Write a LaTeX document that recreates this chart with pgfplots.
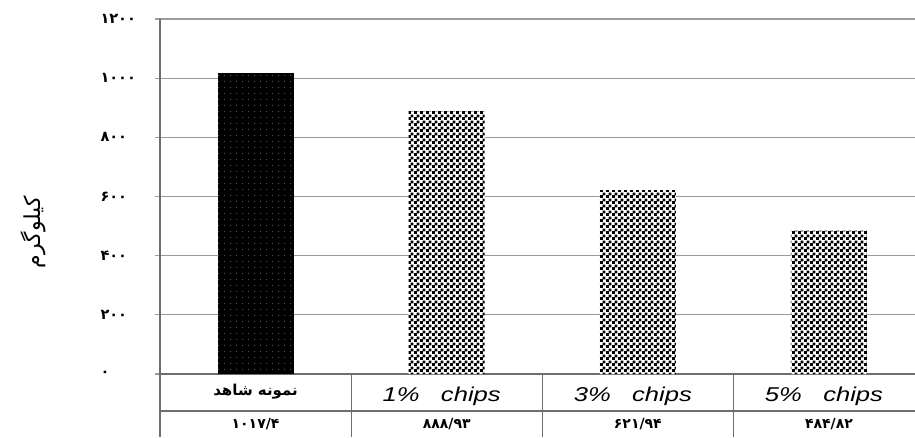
\documentclass[border=0pt]{standalone}
\usepackage{fontspec}
\setmainfont{Liberation Sans}
\newfontfamily\widesans[FakeStretch=1.28]{Liberation Sans}
\newfontfamily\arabicfont[Script=Arabic]{DejaVu Sans}
\TeXXeTstate=1
\usepackage{pgfplots}
\usepackage{pgfplotstable}
\pgfplotsset{compat=1.18}
\usetikzlibrary{patterns}

% checkerboard with 3pt squares
\pgfdeclarepatternformonly{checker}{\pgfpointorigin}{\pgfqpoint{6pt}{6pt}}{\pgfqpoint{6pt}{6pt}}{%
  \pgfpathrectangle{\pgfpointorigin}{\pgfqpoint{3.3pt}{3.3pt}}%
  \pgfpathrectangle{\pgfqpoint{3pt}{3pt}}{\pgfqpoint{3.3pt}{3.3pt}}%
  \pgfusepath{fill}}
% sparse dot screen for the dark bar
\pgfdeclarepatternformonly{finedots}{\pgfpointorigin}{\pgfqpoint{6pt}{6pt}}{\pgfqpoint{6pt}{6pt}}{%
  \pgfpathrectangle{\pgfqpoint{2.4pt}{2.4pt}}{\pgfqpoint{1.2pt}{1.2pt}}%
  \pgfusepath{fill}}

\pgfplotstableread{
x y
0 1017.4
}\control
\pgfplotstableread{
x y
1 888.93
2 621.94
3 484.82
}\chips

\definecolor{gridgray}{RGB}{155,155,155}
\definecolor{linegray}{RGB}{110,110,110}

\newcommand\fa[1]{\arabicfont\bfseries\fontsize{14}{14}\selectfont #1}

\begin{document}
\begin{tikzpicture}
\begin{axis}[
  name=ax,
  scale only axis,
  width=755pt, height=355pt,
  xmin=-0.5, xmax=3.45,
  ymin=0, ymax=1200,
  clip=false,
  axis lines=left,
  axis line style={-, linegray, line width=1.2pt},
  xtick=\empty,
  ytick={0,200,400,600,800,1000,1200},
  yticklabels={۰,۲۰۰,۴۰۰,۶۰۰,۸۰۰,۱۰۰۰,۱۲۰۰},
  yticklabel style={font=\arabicfont\bfseries\fontsize{14.5}{14.5}\selectfont, anchor=west, xshift=-58pt},
  tick align=outside,
  major tick length=5pt,
  tick style={gridgray, line width=1.2pt},
  ymajorgrids,
  grid style={gridgray, line width=1.2pt},
  every axis y label/.style={at={(rel axis cs:0,0.40)}, xshift=-127pt, rotate=90, anchor=center},
  ylabel={\arabicfont\fontsize{22}{22}\selectfont\beginR کیلوگرم\endR},
]
\addplot[ybar, bar width=76pt, bar shift=0pt, draw=none, fill=black,
  postaction={pattern=finedots, pattern color=gray!60!black}] table[x=x, y=y] {\control};
\addplot[ybar, bar width=76pt, bar shift=0pt, draw=none, fill=white,
  postaction={pattern=checker, pattern color=black}] table[x=x, y=y] {\chips};

% data table under the plot
\draw[linegray, line width=1.2pt] (rel axis cs:0,0) -- ([yshift=-63pt]rel axis cs:0,0);
\draw[linegray, line width=1.2pt] ([yshift=-37pt]rel axis cs:0,0) -- ([yshift=-37pt]rel axis cs:1,0);
\draw[linegray, line width=1.2pt] (axis cs:0.5,0) -- ([yshift=-63pt]axis cs:0.5,0);
\draw[linegray, line width=1.2pt] (axis cs:1.5,0) -- ([yshift=-63pt]axis cs:1.5,0);
\draw[linegray, line width=1.2pt] (axis cs:2.5,0) -- ([yshift=-63pt]axis cs:2.5,0);

\node at ([yshift=-18pt]axis cs:0,0) {\arabicfont\bfseries\fontsize{15}{15}\selectfont\beginR نمونه شاهد\endR};
\node[anchor=base] at ([xshift=-5pt,yshift=-27pt]axis cs:1,0) {\widesans\itshape\fontsize{20}{20}\selectfont 1\%\ \ \ chips};
\node[anchor=base] at ([xshift=-5pt,yshift=-27pt]axis cs:2,0) {\widesans\itshape\fontsize{20}{20}\selectfont 3\%\ \ \ chips};
\node[anchor=base] at ([xshift=-5pt,yshift=-27pt]axis cs:3,0) {\widesans\itshape\fontsize{20}{20}\selectfont 5\%\ \ \ chips};

\node at ([yshift=-50pt]axis cs:0,0) {\fa{۱۰۱۷/۴}};
\node at ([yshift=-50pt]axis cs:1,0) {\fa{۸۸۸/۹۳}};
\node at ([yshift=-50pt]axis cs:2,0) {\fa{۶۲۱/۹۴}};
\node at ([yshift=-50pt]axis cs:3,0) {\fa{۴۸۴/۸۲}};

\coordinate (bl) at (rel axis cs:0,0);
\coordinate (tr) at (rel axis cs:1,1);
\end{axis}
\pgfresetboundingbox
\path[use as bounding box] ([xshift=-160pt,yshift=-63pt]bl) rectangle ([yshift=19pt]tr);
\end{tikzpicture}
\end{document}
